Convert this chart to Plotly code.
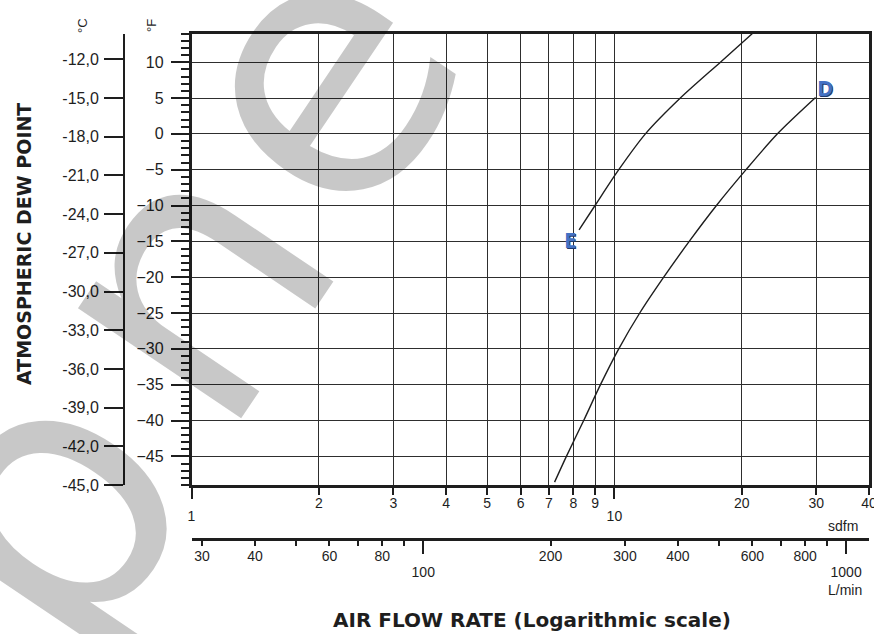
import numpy as np
import plotly.graph_objects as go

W, H = 874, 634
LPM_PER_SCFM = 28.3168

# ---- data ----
d_scfm = [7.22, 7.70, 8.46, 9.27, 10.24, 11.48, 13.08, 15.12, 17.43, 20.48, 24.3, 29.9]
d_dewF = [-48.6, -45.0, -40.0, -35.0, -30.0, -25.0, -20.0, -14.8, -10.0, -5.0, 0.0, 5.06]
e_scfm = [8.25, 9.0, 10.24, 11.84, 14.32, 17.81, 21.2]
e_dewF = [-13.4, -10.0, -5.0, 0.0, 5.0, 10.0, 14.0]

scfm_ticks = [1, 2, 3, 4, 5, 6, 7, 8, 9, 10, 20, 30, 40]
scfm_labels = ['', '2', '3', '4', '5', '6', '7', '8', '9', '', '20', '30', '40']
scfm_major = [1, 10]
scfm_major_labels = ['1', '10']
lmin_ticks = [30, 40, 50, 60, 70, 80, 90, 200, 300, 400, 500, 600, 700, 800, 900]
lmin_labels = ['30', '40', '', '60', '', '80', '', '200', '300', '400', '', '600', '', '800', '']
lmin_major = [100, 1000]
lmin_major_labels = ['100', '1000']
f_ticks = [-45, -40, -35, -30, -25, -20, -15, -10, -5, 0, 5, 10]
c_ticks = [-12, -15, -18, -21, -24, -27, -30, -33, -36, -39, -42, -45]
c_labels = [f"{v},0" for v in c_ticks]
f_range = [-49, 14]
scfm_range = [1, 40]


def f_to_c(f):
    return (f - 32) * 5 / 9


# ---- geometry ----
xdom = [191.5 / W, 869 / W]
ydom = [1 - 485 / H, 1 - 33.5 / H]
lmin_pos = 1 - 539 / H
c_pos = 124 / W

ink = '#1e1e1e'
tf_left = dict(family='Liberation Sans, Arial, sans-serif', size=16, color=ink)
tf_bot = dict(family='Liberation Sans, Arial, sans-serif', size=14, color=ink)

fig = go.Figure()
fig.add_trace(go.Scatter(x=d_scfm, y=d_dewF, mode='lines', name='D',
                         line=dict(color=ink, width=1.4, shape='spline', smoothing=0.8),
                         hoverinfo='skip', showlegend=False))
fig.add_trace(go.Scatter(x=e_scfm, y=e_dewF, mode='lines', name='E',
                         line=dict(color=ink, width=1.4, shape='spline', smoothing=0.8),
                         hoverinfo='skip', showlegend=False))
for xa, ya in [('x2', 'y'), ('x3', 'y'), ('x4', 'y'), ('x', 'y2')]:
    fig.add_trace(go.Scatter(x=[], y=[], xaxis=xa, yaxis=ya, showlegend=False, hoverinfo='skip'))

lx = [np.log10(scfm_range[0]), np.log10(scfm_range[1])]
lx_l = [np.log10(scfm_range[0] * LPM_PER_SCFM), np.log10(scfm_range[1] * LPM_PER_SCFM)]

common_x = dict(type='log', fixedrange=True, zeroline=False, tickmode='array', automargin=False,
                ticklabeloverflow='allow')

fig.update_layout(
    width=W, height=H, autosize=False,
    margin=dict(l=0, r=0, t=0, b=0, pad=0, autoexpand=False),
    paper_bgcolor='white', plot_bgcolor='white', showlegend=False,
    xaxis=dict(**common_x, domain=xdom, range=lx, anchor='y',
               tickvals=scfm_ticks, ticktext=scfm_labels, ticks='outside', ticklen=7,
               tickwidth=1.5, tickcolor=ink, showgrid=True, gridcolor='#2e2e2e', gridwidth=1,
               showline=True, linewidth=2.5, linecolor=ink, mirror=True, tickfont=tf_bot,
               ticklabelstandoff=-4),
    xaxis3=dict(**common_x, overlaying='x', anchor='y', side='bottom', range=lx,
                tickvals=scfm_major, ticktext=scfm_major_labels, ticks='outside', ticklen=13,
                tickwidth=1.5, tickcolor=ink, showgrid=False, showline=False,
                tickfont=tf_bot, ticklabelstandoff=5),
    xaxis2=dict(**common_x, overlaying='x', anchor='free', position=lmin_pos, side='bottom',
                range=lx_l, tickvals=lmin_ticks, ticktext=lmin_labels, ticks='outside',
                ticklen=5, tickwidth=1.5, tickcolor=ink, showline=True, linewidth=2.5,
                linecolor=ink, showgrid=False, tickfont=tf_bot, ticklabelstandoff=-2),
    xaxis4=dict(**common_x, overlaying='x', anchor='free', position=lmin_pos, side='bottom',
                range=lx_l, tickvals=lmin_major, ticktext=lmin_major_labels, ticks='outside',
                ticklen=14, tickwidth=1.5, tickcolor=ink, showline=False, showgrid=False,
                tickfont=tf_bot, ticklabelstandoff=6),
    yaxis=dict(domain=ydom, range=f_range, tickmode='array', tickvals=f_ticks,
               ticks='outside', ticklen=18, tickwidth=2, tickcolor=ink,
               minor=dict(dtick=1, tick0=0, ticks='outside', ticklen=8, tickwidth=2,
                          tickcolor=ink, showgrid=False),
               showgrid=True, gridcolor='#2e2e2e', gridwidth=1, showline=True, linewidth=2.5,
               linecolor=ink, mirror=True, zeroline=False, tickfont=tf_left,
               ticklabelstandoff=4, fixedrange=True, automargin=False),
    yaxis2=dict(overlaying='y', anchor='free', position=c_pos, side='left',
                range=[f_to_c(f_range[0]), f_to_c(f_range[1])], tickmode='array',
                tickvals=c_ticks, ticktext=c_labels, ticks='outside', ticklen=19, tickwidth=2,
                tickcolor=ink, showline=True, linewidth=2, linecolor=ink, showgrid=False,
                zeroline=False, tickfont=tf_left, ticklabelstandoff=2, fixedrange=True,
                automargin=False),
)


def px(X, Y):
    return X / W, 1 - Y / H


ann = []
# watermark letters (light grey, drawn translucent so the black lines stay dark)
wm_font = dict(family='DejaVu Sans, sans-serif', size=360, color='rgba(0,0,0,0.215)')
for ch, (X, Y) in [('p', (38, 508)), ('n', (183, 281)), ('e', (313, 80))]:
    x, y = px(X, Y)
    ann.append(dict(text=ch, x=x, y=y, xref='paper', yref='paper', showarrow=False,
                    textangle=-56, xanchor='center', yanchor='middle', font=wm_font))

# unit / axis texts
for txt, X, Y, size, ang in [('°C', 83, 26, 13, -90), ('°F', 152, 26, 13, -90),
                             ('sdfm', 843, 526, 14, 0), ('L/min', 845, 590, 14, 0)]:
    x, y = px(X, Y)
    ann.append(dict(text=txt, x=x, y=y, xref='paper', yref='paper', showarrow=False,
                    textangle=ang, xanchor='center', yanchor='middle',
                    font=dict(family='Liberation Sans, Arial, sans-serif', size=size, color=ink)))

x, y = px(532, 620)
ann.append(dict(text='AIR FLOW RATE (Logarithmic scale)', x=x, y=y, xref='paper', yref='paper',
                showarrow=False, xanchor='center', yanchor='middle',
                font=dict(family='DejaVu Sans, sans-serif', size=20, color=ink, weight='bold')))
x, y = px(24, 244)
ann.append(dict(text='ATMOSPHERIC DEW POINT', x=x, y=y, xref='paper', yref='paper',
                showarrow=False, textangle=-90, xanchor='center', yanchor='middle',
                font=dict(family='DejaVu Sans, sans-serif', size=19, color=ink, weight='bold')))

# curve labels
lab_font = dict(family='Open Sans, sans-serif', size=22, color='#4472c4', weight='bold',
                shadow='1px 1px 0px #1f3b6e')
for txt, X, Y in [('E', 570, 239), ('D', 825, 87)]:
    xv = 10 ** ((X - 191.5) / (869 - 191.5) * np.log10(40))
    yv = f_range[1] - (Y - 33.5) / (485 - 33.5) * (f_range[1] - f_range[0])
    ann.append(dict(text=txt, x=np.log10(xv), y=yv, xref='x', yref='y', showarrow=False,
                    xanchor='center', yanchor='middle', font=lab_font))

fig.update_layout(annotations=ann)

post = (
    "var h=document.documentElement.style;h.margin='0';h.padding='0';h.overflow='hidden';"
    "var b=document.body.style;b.margin='0';b.padding='0';b.overflow='hidden';"
)
fig.write_html("out.html", config={'displayModeBar': False}, post_script=post)
